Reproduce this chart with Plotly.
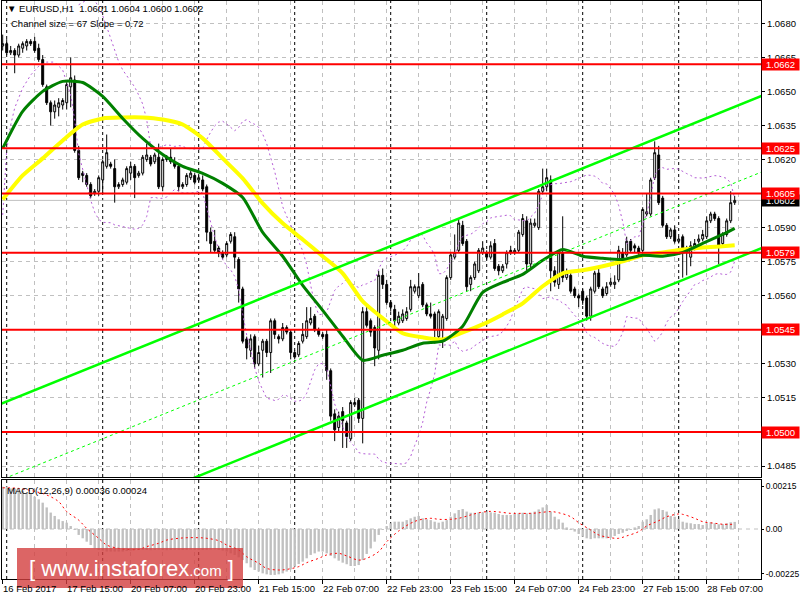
import numpy as np
import plotly.graph_objects as go
from plotly.subplots import make_subplots

# ---------------- data ----------------
opens = [
    1.0670, 1.0671, 1.0667, 1.0668, 1.0666, 1.0669, 1.0670, 1.0672, 1.0672, 1.0669,
    1.0664, 1.0652, 1.0645, 1.0641, 1.0643, 1.0644, 1.0645, 1.0652, 1.0655, 1.0624,
    1.0614, 1.0613, 1.0609, 1.0605, 1.0606, 1.0611, 1.0617, 1.0618, 1.0616, 1.0608,
    1.0609, 1.0610, 1.0614, 1.0617, 1.0613, 1.0614, 1.0620, 1.0621, 1.0619, 1.0621,
    1.0608, 1.0620, 1.0621, 1.0619, 1.0617, 1.0608, 1.0609, 1.0612, 1.0613, 1.0611,
    1.0611, 1.0608, 1.0588, 1.0584, 1.0581, 1.0579, 1.0578, 1.0584, 1.0586, 1.0576,
    1.0563, 1.0541, 1.0536, 1.0542, 1.0530, 1.0536, 1.0540, 1.0535, 1.0549, 1.0542,
    1.0541, 1.0546, 1.0544, 1.0535, 1.0534, 1.0540, 1.0542, 1.0548, 1.0551, 1.0545,
    1.0543, 1.0543, 1.0527, 1.0508, 1.0502, 1.0509, 1.0504, 1.0497, 1.0512, 1.0514,
    1.0506, 1.0553, 1.0549, 1.0546, 1.0536, 1.0569, 1.0565, 1.0557, 1.0554, 1.0548,
    1.0549, 1.0550, 1.0554, 1.0562, 1.0560, 1.0565, 1.0556, 1.0552, 1.0552, 1.0542,
    1.0545, 1.0550, 1.0568, 1.0577, 1.0580, 1.0591, 1.0584, 1.0565, 1.0568, 1.0571,
    1.0579, 1.0579, 1.0577, 1.0583, 1.0573, 1.0571, 1.0574, 1.0580, 1.0579, 1.0580,
    1.0587, 1.0593, 1.0574, 1.0591, 1.0590, 1.0606, 1.0608, 1.0611, 1.0571, 1.0565,
    1.0579, 1.0568, 1.0569, 1.0563, 1.0560, 1.0562, 1.0559, 1.0551, 1.0562, 1.0570,
    1.0563, 1.0561, 1.0565, 1.0565, 1.0567, 1.0579, 1.0578, 1.0584, 1.0582, 1.0581,
    1.0580, 1.0596, 1.0596, 1.0612, 1.0622, 1.0603, 1.0591, 1.0586, 1.0589, 1.0584,
    1.0586, 1.0581, 1.0577, 1.0581, 1.0584, 1.0585, 1.0586, 1.0593, 1.0596, 1.0594,
    1.0583, 1.0587, 1.0593, 1.0601,
]
highs = [
    1.0675, 1.0673, 1.0670, 1.0669, 1.0671, 1.0672, 1.0673, 1.0673, 1.0674, 1.0671,
    1.0666, 1.0653, 1.0646, 1.0646, 1.0647, 1.0647, 1.0654, 1.0665, 1.0657, 1.0626,
    1.0615, 1.0614, 1.0610, 1.0607, 1.0613, 1.0620, 1.0631, 1.0619, 1.0620, 1.0610,
    1.0612, 1.0617, 1.0619, 1.0618, 1.0615, 1.0622, 1.0627, 1.0622, 1.0623, 1.0627,
    1.0621, 1.0622, 1.0625, 1.0621, 1.0618, 1.0610, 1.0614, 1.0615, 1.0614, 1.0613,
    1.0613, 1.0609, 1.0590, 1.0589, 1.0582, 1.0580, 1.0584, 1.0588, 1.0588, 1.0577,
    1.0564, 1.0542, 1.0543, 1.0543, 1.0538, 1.0541, 1.0541, 1.0550, 1.0550, 1.0543,
    1.0548, 1.0547, 1.0545, 1.0536, 1.0540, 1.0548, 1.0555, 1.0555, 1.0552, 1.0546,
    1.0544, 1.0545, 1.0528, 1.0510, 1.0509, 1.0511, 1.0505, 1.0514, 1.0515, 1.0515,
    1.0555, 1.0555, 1.0550, 1.0547, 1.0571, 1.0572, 1.0567, 1.0558, 1.0556, 1.0553,
    1.0554, 1.0555, 1.0567, 1.0565, 1.0570, 1.0566, 1.0557, 1.0557, 1.0553, 1.0554,
    1.0552, 1.0569, 1.0579, 1.0587, 1.0594, 1.0593, 1.0585, 1.0569, 1.0575, 1.0581,
    1.0584, 1.0580, 1.0584, 1.0585, 1.0574, 1.0574, 1.0580, 1.0582, 1.0581, 1.0589,
    1.0596, 1.0595, 1.0594, 1.0594, 1.0607, 1.0616, 1.0616, 1.0613, 1.0573, 1.0580,
    1.0595, 1.0572, 1.0570, 1.0564, 1.0561, 1.0563, 1.0560, 1.0564, 1.0571, 1.0572,
    1.0564, 1.0566, 1.0568, 1.0569, 1.0582, 1.0581, 1.0586, 1.0585, 1.0583, 1.0582,
    1.0599, 1.0605, 1.0612, 1.0628, 1.0626, 1.0604, 1.0592, 1.0590, 1.0591, 1.0586,
    1.0587, 1.0582, 1.0584, 1.0585, 1.0587, 1.0589, 1.0595, 1.0597, 1.0597, 1.0595,
    1.0588, 1.0594, 1.0606, 1.0604,
]
lows = [
    1.0668, 1.0666, 1.0666, 1.0658, 1.0665, 1.0667, 1.0668, 1.0670, 1.0667, 1.0663,
    1.0652, 1.0644, 1.0635, 1.0638, 1.0639, 1.0642, 1.0642, 1.0643, 1.0623, 1.0611,
    1.0610, 1.0608, 1.0603, 1.0604, 1.0604, 1.0605, 1.0616, 1.0616, 1.0601, 1.0607,
    1.0608, 1.0609, 1.0611, 1.0603, 1.0612, 1.0613, 1.0619, 1.0617, 1.0618, 1.0607,
    1.0606, 1.0619, 1.0618, 1.0616, 1.0606, 1.0607, 1.0608, 1.0611, 1.0609, 1.0610,
    1.0606, 1.0584, 1.0579, 1.0579, 1.0577, 1.0576, 1.0577, 1.0583, 1.0572, 1.0557,
    1.0539, 1.0532, 1.0533, 1.0528, 1.0529, 1.0524, 1.0533, 1.0526, 1.0541, 1.0539,
    1.0540, 1.0543, 1.0532, 1.0532, 1.0533, 1.0539, 1.0541, 1.0547, 1.0544, 1.0542,
    1.0541, 1.0523, 1.0505, 1.0496, 1.0500, 1.0493, 1.0493, 1.0496, 1.0511, 1.0504,
    1.0495, 1.0546, 1.0542, 1.0529, 1.0532, 1.0563, 1.0556, 1.0553, 1.0545, 1.0547,
    1.0548, 1.0549, 1.0553, 1.0561, 1.0559, 1.0555, 1.0551, 1.0550, 1.0539, 1.0541,
    1.0537, 1.0549, 1.0567, 1.0576, 1.0579, 1.0582, 1.0562, 1.0562, 1.0567, 1.0570,
    1.0578, 1.0576, 1.0576, 1.0571, 1.0569, 1.0570, 1.0572, 1.0578, 1.0578, 1.0579,
    1.0586, 1.0571, 1.0572, 1.0590, 1.0589, 1.0605, 1.0606, 1.0562, 1.0564, 1.0563,
    1.0566, 1.0567, 1.0561, 1.0559, 1.0555, 1.0556, 1.0549, 1.0549, 1.0561, 1.0563,
    1.0559, 1.0560, 1.0564, 1.0563, 1.0566, 1.0575, 1.0577, 1.0579, 1.0579, 1.0577,
    1.0578, 1.0595, 1.0595, 1.0611, 1.0600, 1.0590, 1.0585, 1.0585, 1.0583, 1.0583,
    1.0568, 1.0569, 1.0573, 1.0580, 1.0583, 1.0584, 1.0585, 1.0592, 1.0593, 1.0574,
    1.0582, 1.0586, 1.0592, 1.0600,
]
closes = [
    1.0671, 1.0667, 1.0668, 1.0666, 1.0670, 1.0671, 1.0672, 1.0671, 1.0668, 1.0664,
    1.0653, 1.0645, 1.0641, 1.0644, 1.0645, 1.0646, 1.0653, 1.0656, 1.0624, 1.0612,
    1.0613, 1.0609, 1.0604, 1.0606, 1.0612, 1.0619, 1.0623, 1.0617, 1.0608, 1.0609,
    1.0611, 1.0616, 1.0617, 1.0612, 1.0614, 1.0621, 1.0622, 1.0618, 1.0622, 1.0608,
    1.0620, 1.0621, 1.0619, 1.0617, 1.0608, 1.0609, 1.0613, 1.0614, 1.0610, 1.0612,
    1.0607, 1.0588, 1.0583, 1.0580, 1.0579, 1.0577, 1.0583, 1.0587, 1.0577, 1.0563,
    1.0540, 1.0537, 1.0541, 1.0530, 1.0535, 1.0540, 1.0535, 1.0549, 1.0543, 1.0541,
    1.0546, 1.0544, 1.0535, 1.0533, 1.0539, 1.0543, 1.0549, 1.0550, 1.0545, 1.0543,
    1.0542, 1.0527, 1.0507, 1.0501, 1.0507, 1.0505, 1.0498, 1.0513, 1.0513, 1.0506,
    1.0553, 1.0547, 1.0544, 1.0537, 1.0569, 1.0565, 1.0557, 1.0555, 1.0549, 1.0551,
    1.0552, 1.0553, 1.0564, 1.0564, 1.0564, 1.0556, 1.0552, 1.0551, 1.0545, 1.0553,
    1.0551, 1.0568, 1.0578, 1.0579, 1.0592, 1.0583, 1.0564, 1.0568, 1.0574, 1.0580,
    1.0581, 1.0577, 1.0582, 1.0572, 1.0571, 1.0573, 1.0579, 1.0579, 1.0580, 1.0588,
    1.0594, 1.0574, 1.0592, 1.0592, 1.0606, 1.0608, 1.0612, 1.0571, 1.0566, 1.0579,
    1.0568, 1.0570, 1.0562, 1.0560, 1.0559, 1.0558, 1.0551, 1.0563, 1.0570, 1.0564,
    1.0560, 1.0564, 1.0566, 1.0566, 1.0580, 1.0576, 1.0584, 1.0580, 1.0581, 1.0579,
    1.0598, 1.0597, 1.0611, 1.0623, 1.0601, 1.0591, 1.0586, 1.0589, 1.0584, 1.0585,
    1.0580, 1.0579, 1.0582, 1.0583, 1.0585, 1.0587, 1.0593, 1.0596, 1.0594, 1.0582,
    1.0587, 1.0593, 1.0601, 1.0602,
]

# moving averages, read every 5 bars
ma_bars = [0, 5, 10, 15, 20, 25, 30, 35, 40, 45, 50, 55, 60, 65, 70, 75, 80, 85, 90,
           95, 100, 105, 110, 115, 120, 125, 130, 135, 140, 145, 150, 155, 160, 165,
           170, 175, 180, 183]
ma_green = [1.06249, 1.06412, 1.06500, 1.06544, 1.06539, 1.06478, 1.06381, 1.06293,
            1.06222, 1.06170, 1.06139, 1.06095, 1.06033, 1.05879, 1.05774, 1.05646,
            1.05536, 1.05422, 1.05316, 1.05338, 1.05360, 1.05391, 1.05400, 1.05466,
            1.05615, 1.05659, 1.05694, 1.05756, 1.05804, 1.05774, 1.05765, 1.05760,
            1.05778, 1.05774, 1.05791, 1.05831, 1.05870, 1.05897]
ma_yellow = [1.06024, 1.06130, 1.06205, 1.06284, 1.06354, 1.06381, 1.06385, 1.06385,
             1.06376, 1.06354, 1.06293, 1.06205, 1.06117, 1.06007, 1.05919, 1.05848,
             1.05774, 1.05699, 1.05576, 1.05501, 1.05435, 1.05417, 1.05408, 1.05439,
             1.05474, 1.05518, 1.05567, 1.05642, 1.05699, 1.05712, 1.05730, 1.05752,
             1.05778, 1.05791, 1.05804, 1.05813, 1.05818, 1.05822]

# lower Bollinger band before a full 20-bar window is on the chart (read)
bb_early_bars = [0, 1, 2, 3, 5, 7, 9, 11, 13, 15, 17, 18]
bb_early_lower = [1.05956, 1.06242, 1.06352, 1.06427, 1.06515, 1.06572, 1.06611,
                  1.06629, 1.06629, 1.06594, 1.06484, 1.06374]
bb_period = 20
bb_dev = 2

# equidistant channel: upper line end points, size and slope from the chart text
chan_bars = [-1, 190]
chan_upper = [1.05120, 1.06482]
chan_size = 0.0067

levels = [1.0662, 1.0625, 1.0605, 1.0579, 1.0545, 1.0500]
last_price = 1.0602

macd_hist = [
    0.00214, 0.00214, 0.00205, 0.00205, 0.00200, 0.00194, 0.00180, 0.00177, 0.00163, 0.00150,
    0.00133, 0.00109, 0.00083, 0.00066, 0.00049, 0.00040, 0.00032, 0.00015, -0.00002, -0.00030,
    -0.00047, -0.00064, -0.00081, -0.00098, -0.00106, -0.00109, -0.00114, -0.00114, -0.00114, -0.00114,
    -0.00114, -0.00111, -0.00109, -0.00106, -0.00106, -0.00105, -0.00106, -0.00107, -0.00106, -0.00105,
    -0.00106, -0.00107, -0.00106, -0.00105, -0.00106, -0.00106, -0.00105, -0.00104, -0.00105, -0.00106,
    -0.00106, -0.00105, -0.00104, -0.00103, -0.00106, -0.00109, -0.00114, -0.00123, -0.00131, -0.00143,
    -0.00157, -0.00173, -0.00194, -0.00207, -0.00215, -0.00224, -0.00229, -0.00232, -0.00232, -0.00229,
    -0.00224, -0.00215, -0.00204, -0.00190, -0.00177, -0.00165, -0.00148, -0.00131, -0.00123, -0.00114,
    -0.00114, -0.00123, -0.00136, -0.00148, -0.00160, -0.00170, -0.00178, -0.00187, -0.00187, -0.00182,
    -0.00157, -0.00126, -0.00098, -0.00064, -0.00030, -0.00005, 0.00015, 0.00029, 0.00037, 0.00037,
    0.00037, 0.00045, 0.00054, 0.00062, 0.00066, 0.00054, 0.00049, 0.00045, 0.00037, 0.00032,
    0.00037, 0.00045, 0.00062, 0.00079, 0.00096, 0.00101, 0.00088, 0.00082, 0.00082, 0.00084,
    0.00084, 0.00088, 0.00084, 0.00082, 0.00076, 0.00071, 0.00071, 0.00071, 0.00076, 0.00079,
    0.00082, 0.00079, 0.00082, 0.00088, 0.00099, 0.00109, 0.00121, 0.00088, 0.00062, 0.00049,
    0.00032, 0.00008, -0.00002, -0.00013, -0.00025, -0.00039, -0.00047, -0.00051, -0.00047, -0.00047,
    -0.00047, -0.00047, -0.00044, -0.00035, -0.00025, -0.00019, -0.00008, -0.00002, 0.00008, 0.00015,
    0.00037, 0.00049, 0.00071, 0.00099, 0.00104, 0.00096, 0.00088, 0.00066, 0.00062, 0.00049,
    0.00037, 0.00032, 0.00029, 0.00025, 0.00025, 0.00020, 0.00029, 0.00034, 0.00029, 0.00024,
    0.00025, 0.00029, 0.00034, 0.00036,
]
signal_bars = [0, 4, 8, 11, 14, 16, 19, 21, 24, 26, 29, 31, 34, 36, 39, 41, 44, 46, 49, 51,
               54, 56, 59, 61, 64, 66, 69, 71, 74, 76, 79, 81, 84, 86, 89, 91, 94, 96, 99,
               102, 104, 107, 109, 112, 114, 117, 119, 122, 124, 127, 129, 132, 134, 137,
               139, 142, 144, 147, 149, 152, 154, 156, 159, 161, 164, 166, 169, 170, 173,
               175, 178, 180, 183]
signal_vals = [0.00208, 0.00205, 0.00190, 0.00172, 0.00138, 0.00088, 0.00045, 0.00003,
               -0.00047, -0.00081, -0.00098, -0.00103, -0.00103, -0.00089, -0.00072, -0.00056,
               -0.00047, -0.00044, -0.00044, -0.00047, -0.00059, -0.00081, -0.00106, -0.00140,
               -0.00173, -0.00199, -0.00207, -0.00204, -0.00190, -0.00170, -0.00148, -0.00131,
               -0.00123, -0.00136, -0.00157, -0.00148, -0.00114, -0.00064, -0.00010,
               0.00029, 0.00045, 0.00054, 0.00049, 0.00049, 0.00054, 0.00071, 0.00082, 0.00089,
               0.00086, 0.00079, 0.00079, 0.00079, 0.00082, 0.00088, 0.00082, 0.00062, 0.00032,
               -0.00005, -0.00030, -0.00044, -0.00047, -0.00035, -0.00013, 0.00015, 0.00042,
               0.00062, 0.00076, 0.00074, 0.00054, 0.00037, 0.00029, 0.00024, 0.00024]

x_tick_bars = [0, 16, 32, 48, 64, 80, 96, 112, 128, 144, 160, 176]
x_tick_labels = ["16 Feb 2017", "17 Feb 15:00", "20 Feb 07:00", "20 Feb 23:00",
                 "21 Feb 15:00", "22 Feb 07:00", "22 Feb 23:00", "23 Feb 15:00",
                 "24 Feb 07:00", "24 Feb 23:00", "27 Feb 15:00", "28 Feb 07:00"]
x_grid_minor = [8, 24, 40, 56, 72, 88, 104, 120, 136, 152, 168, 184]
day_start_bars = [1, 25, 49, 73, 97, 121, 145, 169]
price_ticks = [1.0485, 1.0500, 1.0515, 1.0530, 1.0545, 1.0560, 1.0575, 1.0590,
               1.0605, 1.0620, 1.0635, 1.0650, 1.0665, 1.0680]
# tick labels that sit fully under a level box are left blank
price_tick_text = ["" if any(abs(t - lv) < 1e-6 for lv in levels) else f"{t:.4f}"
                   for t in price_ticks]
macd_ticks = [-0.00225, 0.0, 0.00215]
macd_tick_text = ["-0.00225", "0.00", "0.00215"]

# ---------------- figure ----------------
bars = list(range(len(closes)))
FONT = "Liberation Sans"
FS = 9.5

fig = make_subplots(rows=2, cols=1, shared_xaxes=True, vertical_spacing=0.005)

fig.add_trace(go.Candlestick(
    x=bars, open=opens, high=highs, low=lows, close=closes,
    increasing=dict(line=dict(color="black", width=1), fillcolor="white"),
    decreasing=dict(line=dict(color="black", width=1), fillcolor="black"),
    whiskerwidth=0, hoverinfo="skip", showlegend=False), row=1, col=1)

# Bollinger bands from closes
c = np.array(closes)
bb_idx = list(range(bb_period - 1, len(c)))
mid = np.array([c[i - bb_period + 1:i + 1].mean() for i in bb_idx])
sd = np.array([c[i - bb_period + 1:i + 1].std() for i in bb_idx])
bb_up = mid + bb_dev * sd
bb_lo = mid - bb_dev * sd
violet = "#B45CD6"
fig.add_trace(go.Scatter(x=bb_idx, y=bb_up, mode="lines",
                         line=dict(color=violet, width=1, dash="2px,3px"),
                         hoverinfo="skip", showlegend=False), row=1, col=1)
fig.add_trace(go.Scatter(x=bb_early_bars + bb_idx, y=bb_early_lower + list(bb_lo), mode="lines",
                         line=dict(color=violet, width=1, dash="2px,3px"),
                         hoverinfo="skip", showlegend=False), row=1, col=1)

# moving averages
fig.add_trace(go.Scatter(x=ma_bars, y=ma_yellow, mode="lines",
                         line=dict(color="#FFFF00", width=4, shape="spline", smoothing=0.6),
                         hoverinfo="skip", showlegend=False), row=1, col=1)
fig.add_trace(go.Scatter(x=ma_bars, y=ma_green, mode="lines",
                         line=dict(color="#008000", width=3, shape="spline", smoothing=0.6),
                         hoverinfo="skip", showlegend=False), row=1, col=1)

# channel
chan_lower = [v - chan_size for v in chan_upper]
chan_mid = [v - chan_size / 2 for v in chan_upper]
for ys, w, d in [(chan_upper, 2.5, "solid"), (chan_lower, 2.5, "solid"), (chan_mid, 1, "3px,3px")]:
    fig.add_trace(go.Scatter(x=chan_bars, y=ys, mode="lines",
                             line=dict(color="#00FF00", width=w, dash=d),
                             hoverinfo="skip", showlegend=False), row=1, col=1)

# MACD
fig.add_trace(go.Bar(x=bars, y=macd_hist, marker=dict(color="#C0C0C0", line=dict(width=0)),
                     width=0.6, hoverinfo="skip", showlegend=False), row=2, col=1)
fig.add_trace(go.Scatter(x=signal_bars, y=signal_vals, mode="lines",
                         line=dict(color="#FF0000", width=1, dash="2px,3px", shape="spline"),
                         hoverinfo="skip", showlegend=False), row=2, col=1)

# ---------------- axes ----------------
main_dom = [(579 - 477) / 578, 1.0]
macd_dom = [0.0, (579 - 480) / 578]

fig.update_xaxes(range=[-0.175, 189.575], rangeslider_visible=False, autorange=False,
                 showline=True, mirror=True, linecolor="black", linewidth=1,
                 tickmode="array", tickvals=x_tick_bars, showticklabels=False,
                 showgrid=True, gridcolor="#C0C0C0", griddash="4px,4px", gridwidth=1,
                 zeroline=False, automargin=False,
                 minor=dict(tickmode="array", tickvals=x_grid_minor, showgrid=True,
                            gridcolor="#C0C0C0", griddash="4px,4px", gridwidth=1, ticks=""))
fig.update_xaxes(ticks="", row=1, col=1)
fig.update_xaxes(ticks="outside", ticklen=4, tickcolor="black", row=2, col=1)

fig.update_yaxes(domain=main_dom, range=[1.04802, 1.06898], side="right",
                 tickmode="array", tickvals=price_ticks, ticktext=price_tick_text,
                 ticks="outside", ticklen=3, tickcolor="black",
                 showgrid=True, gridcolor="#C0C0C0", griddash="4px,4px", gridwidth=1,
                 showline=True, mirror=True, linecolor="black", linewidth=1,
                 zeroline=False, automargin=False,
                 tickfont=dict(size=FS, color="black", family=FONT),
                 row=1, col=1)
fig.update_yaxes(domain=macd_dom, range=[-0.002525, 0.002475], side="right",
                 tickmode="array", tickvals=macd_ticks, ticktext=macd_tick_text,
                 ticks="outside", ticklen=2, tickcolor="black", showgrid=False,
                 showline=True, mirror=True, linecolor="black", linewidth=1,
                 zeroline=False, automargin=False,
                 tickfont=dict(size=8.5, color="black", family=FONT),
                 row=2, col=1)

# ---------------- shapes ----------------
shapes = []
for b in day_start_bars:
    shapes.append(dict(type="line", xref="x", yref="paper", x0=b, x1=b, y0=0, y1=1,
                       line=dict(color="black", width=1, dash="3px,3px"), layer="below"))
shapes.append(dict(type="line", xref="paper", yref="y", x0=0, x1=1, y0=last_price, y1=last_price,
                   line=dict(color="#C0C0C0", width=1), layer="below"))
shapes.append(dict(type="line", xref="paper", yref="y2", x0=0, x1=1, y0=0, y1=0,
                   line=dict(color="#C0C0C0", width=1, dash="4px,4px"), layer="below"))
for lv in levels:
    shapes.append(dict(type="line", xref="paper", yref="y", x0=0, x1=1, y0=lv, y1=lv,
                       line=dict(color="#FF0000", width=2), layer="above"))
# watermark box
shapes.append(dict(type="rect", xref="paper", yref="paper",
                   x0=(17 - 2) / 759, x1=(243 - 2) / 759,
                   y0=(579 - 588) / 578, y1=(579 - 548) / 578,
                   fillcolor="rgba(211,62,62,0.80)", line=dict(width=0), layer="above"))

# ---------------- annotations ----------------
ann = []
ann.append(dict(xref="paper", x=1, xanchor="left", yref="y", y=last_price, yanchor="middle",
                text=f"{last_price:.4f}", showarrow=False, bgcolor="black",
                font=dict(color="white", size=FS, family=FONT), width=37, height=11,
                borderpad=0, xshift=0))
for lv in levels:
    ann.append(dict(xref="paper", x=1, xanchor="left", yref="y", y=lv, yanchor="middle",
                    text=f"{lv:.4f}", showarrow=False, bgcolor="#FF0000",
                    font=dict(color="white", size=FS, family=FONT), width=37, height=11,
                    borderpad=0, xshift=0))
for b, t in zip(x_tick_bars, x_tick_labels):
    ann.append(dict(xref="x2", x=b, xanchor="left", yref="paper", y=0, yanchor="top",
                    text=t, showarrow=False, yshift=-3, xshift=-1, borderpad=0,
                    font=dict(color="black", size=FS, family=FONT)))
ann.append(dict(xref="paper", x=(5 - 2) / 759, xanchor="left", yref="paper",
                y=(579 - 9) / 578, yanchor="middle", showarrow=False,
                text="\u25BC EURUSD,H1  1.0601 1.0604 1.0600 1.0602",
                font=dict(color="black", size=FS, family=FONT)))
ann.append(dict(xref="paper", x=(9 - 2) / 759, xanchor="left", yref="paper",
                y=(579 - 23) / 578, yanchor="middle", showarrow=False,
                text="Channel size = 67 Slope = 0.72",
                font=dict(color="black", size=FS, family=FONT)))
ann.append(dict(xref="paper", x=(5 - 2) / 759, xanchor="left", yref="paper",
                y=(579 - 490) / 578, yanchor="middle", showarrow=False,
                text="MACD(12,26,9) 0.00036 0.00024",
                font=dict(color="black", size=FS, family=FONT)))
ann.append(dict(xref="paper", x=(131 - 2) / 759, xanchor="center", yref="paper",
                y=(579 - 568) / 578, yanchor="middle", showarrow=False,
                text="[ www.instaforex<span style='font-size:15px'>.com</span> ]",
                font=dict(color="white", size=22, family=FONT)))

fig.update_layout(width=800, height=600, margin=dict(l=2, r=39, t=1, b=21, autoexpand=False),
                  paper_bgcolor="white", plot_bgcolor="white", showlegend=False,
                  font=dict(family=FONT, size=FS, color="black"),
                  shapes=shapes, annotations=ann, bargap=0.3)

fig.write_html("out.html", config={"displayModeBar": False},
               post_script="document.body.style.margin='0px';document.body.style.padding='0px';")
